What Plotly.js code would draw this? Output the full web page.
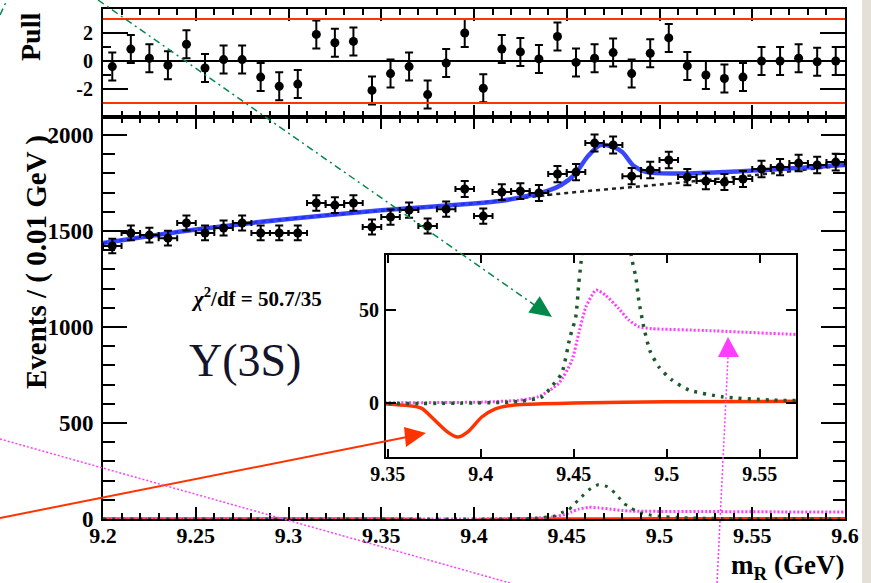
<!DOCTYPE html>
<html>
<head>
<meta charset="utf-8">
<script src="https://cdn.plot.ly/plotly-3.0.1.min.js"></script>
<style>html,body{margin:0;padding:0;background:#fff;}#chart{width:871px;height:583px;}</style>
</head>
<body>
<div id="chart"></div>
<script>
// ---- data ----
var binCenters = [9.205,9.215,9.225,9.235,9.245,9.255,9.265,9.275,9.285,9.295,
                  9.305,9.315,9.325,9.335,9.345,9.355,9.365,9.375,9.385,9.395,
                  9.405,9.415,9.425,9.435,9.445,9.455,9.465,9.475,9.485,9.495,
                  9.505,9.515,9.525,9.535,9.545,9.555,9.565,9.575,9.585,9.595];
var eventCounts = [1422,1490,1479,1463,1542,1490,1516,1542,1490,1490,
                   1490,1646,1635,1646,1521,1573,1609,1526,1614,1719,
                   1578,1703,1708,1698,1797,1807,1958,1948,1786,1818,
                   1870,1781,1760,1755,1771,1823,1833,1854,1844,1859];
var binHalfWidth = 0.005;
var pullValues = [-0.4,0.85,0.2,-0.3,1.2,-0.5,0.1,0.1,-1.15,-1.8,
                  -1.65,1.9,1.3,1.4,-2.1,-0.9,-0.4,-2.4,-0.15,2.0,
                  -1.95,0.85,0.65,0.15,1.75,-0.1,0.2,0.6,-0.9,0.55,
                  1.65,-0.35,-1.0,-1.25,-1.15,0.0,0.0,0.2,-0.05,0.0];
var pullErr = 1;

var totalX = [9.2,9.25,9.3,9.35,9.4,9.415,9.43,9.44,9.447,9.454,9.461,9.468,9.475,9.48,9.486,9.493,9.51,9.55,9.6];
var totalY = [1437,1508,1563,1608,1643,1658,1685,1710,1740,1791,1885,1948,1938,1911,1840,1807,1800,1815,1844];
var bkgX = [9.2,9.25,9.3,9.35,9.4,9.45,9.5,9.55,9.6];
var bkgY = [1437,1508,1563,1606,1645,1698,1742,1790,1842];

var redX = [9.2,9.35,9.368,9.375,9.382,9.3876,9.393,9.4005,9.4075,9.418,9.433,9.45,9.5,9.6];
var redY = [0,-0.5,-2.7,-9,-15.5,-18.3,-15.5,-7.5,-3.2,-1,-0.4,0,0.7,1];
var magX = [9.2,9.4,9.42,9.431,9.442,9.449,9.4527,9.4565,9.462,9.467,9.474,9.4796,9.485,9.492,9.521,9.567,9.6];
var magY = [0,0.5,1.5,3.4,10.7,23,37.6,51.6,60.8,58,51,44.6,41,40,39,37,36];
var grnX = [9.2,9.42,9.433,9.438,9.4435,9.448,9.451,9.4527,9.4538,9.458,9.462,9.467,9.472,9.477,9.481,9.4833,9.485,9.4876,9.491,9.4957,9.5027,9.512,9.5296,9.5565,9.6];
var grnY = [0,0.8,3.4,8.8,16,35.6,46,64.5,75,115,152,178,168,125,78.7,68,55,41,28,19.5,12.4,7,3.4,1.6,1];

var mainXTicks = [9.2,9.25,9.3,9.35,9.4,9.45,9.5,9.55,9.6];
var mainXLabels = ['9.2','9.25','9.3','9.35','9.4','9.45','9.5','9.55','9.6'];
var mainYTicks = [0,500,1000,1500,2000];
var mainYLabels = ['0','500','1000','1500','2000'];
var pullTicks = [-2,0,2];
var pullLabels = ['-2','0','2'];
var insetXTicks = [9.35,9.4,9.45,9.5,9.55];
var insetXLabels = ['9.35','9.4','9.45','9.5','9.55'];
var insetYTicks = [0,50];
var insetYLabels = ['0','50'];

// ---- styling ----
var W = 871, H = 583;
function px(x){return x/W;}
function py(y){return 1 - y/H;}
var SERIF = '"Liberation Serif", "Times New Roman", serif';
var GREEN_ARROW = '#00894a', RED = '#ff3300', MAG = '#ff3cff', BLUE = '#2233ff', DKGREEN = '#1d5a2a';

var traces = [
  {x: bkgX, y: bkgY, xaxis:'x', yaxis:'y', mode:'lines', line:{color:'#222', width:2.5, dash:'4px,4px', shape:'spline'}, hoverinfo:'skip'},
  {x: totalX, y: totalY, xaxis:'x', yaxis:'y', mode:'lines', line:{color:BLUE, width:4.5, shape:'spline', smoothing:0.8}, opacity:0.9, hoverinfo:'skip'},
  {x: redX, y: redY, xaxis:'x', yaxis:'y', mode:'lines', line:{color:RED, width:3.5, shape:'spline', smoothing:0.6}},
  {x: magX, y: magY, xaxis:'x', yaxis:'y', mode:'lines', line:{color:MAG, width:3, dash:'2px,2px', shape:'spline', smoothing:0.6}},
  {x: grnX, y: grnY, xaxis:'x', yaxis:'y', mode:'lines', line:{color:DKGREEN, width:3, dash:'3px,6px', shape:'spline', smoothing:0.6}},
  {x: binCenters, y: eventCounts, xaxis:'x', yaxis:'y', mode:'markers',
   marker:{color:'#000', size:9},
   error_x:{type:'constant', value:binHalfWidth, color:'#000', thickness:2, width:3},
   error_y:{type:'sqrt', color:'#000', thickness:2, width:4}},
  {x: binCenters, y: pullValues, xaxis:'x2', yaxis:'y2', mode:'markers',
   marker:{color:'#000', size:9},
   error_y:{type:'constant', value:pullErr, color:'#000', thickness:2, width:4}},
  {x: redX, y: redY, xaxis:'x3', yaxis:'y3', mode:'lines', line:{color:RED, width:3.5, shape:'spline', smoothing:0.6}},
  {x: magX, y: magY, xaxis:'x3', yaxis:'y3', mode:'lines', line:{color:MAG, width:3, dash:'2px,2px', shape:'spline', smoothing:0.6}},
  {x: grnX, y: grnY, xaxis:'x3', yaxis:'y3', mode:'lines', line:{color:DKGREEN, width:3.5, dash:'3px,6px', shape:'spline', smoothing:0.6}}
];

var tickFontX = {family:SERIF, size:22, color:'#000', weight:'bold'};
var tickFontY = {family:SERIF, size:23, color:'#000', weight:'bold'};
var tickFontPull = {family:SERIF, size:20, color:'#000', weight:'bold'};
var tickFontInset = {family:SERIF, size:20, color:'#000', weight:'bold'};
var xDom = [px(103), px(845)];

var axBase = {showline:true, linecolor:'#000', linewidth:2, mirror:'ticks', ticks:'inside',
              tickcolor:'#000', tickwidth:2, showgrid:false, zeroline:false, fixedrange:true};

function ext(a,b){var o={};for(var k in a)o[k]=a[k];for(var k2 in b)o[k2]=b[k2];return o;}

var layout = {
  width: W, height: H, margin:{l:0,r:0,t:0,b:0}, showlegend:false,
  paper_bgcolor:'#fff', plot_bgcolor:'rgba(0,0,0,0)',
  xaxis: ext(axBase, {anchor:'y', domain:xDom, range:[9.2,9.6], tickvals:mainXTicks, ticktext:mainXLabels,
           ticklen:12, tickfont:tickFontX, ticklabelstandoff:-4,
           minor:{ticks:'inside', ticklen:6, dtick:0.01, tick0:9.2, tickcolor:'#000', tickwidth:2, showgrid:false}}),
  yaxis: ext(axBase, {anchor:'x', domain:[py(519), py(117)], range:[0,2094], tickvals:mainYTicks, ticktext:mainYLabels,
           ticklen:24, tickfont:tickFontY, ticklabelstandoff:3,
           minor:{ticks:'inside', ticklen:12, dtick:100, tick0:0, tickcolor:'#000', tickwidth:2, showgrid:false}}),
  xaxis2: ext(axBase, {anchor:'y2', domain:xDom, range:[9.2,9.6], matches:'x', showticklabels:false,
           tickvals:mainXTicks, ticklen:12,
           minor:{ticks:'inside', ticklen:6, dtick:0.01, tick0:9.2, tickcolor:'#000', tickwidth:2, showgrid:false}}),
  yaxis2: ext(axBase, {anchor:'x2', domain:[py(117), py(8.5)], range:[-4,3.75], tickvals:pullTicks, ticktext:pullLabels,
           ticklen:25, tickfont:tickFontPull, ticklabelstandoff:4,
           minor:{ticks:'inside', ticklen:8, dtick:1, tick0:0, tickcolor:'#000', tickwidth:2, showgrid:false}}),
  xaxis3: ext(axBase, {anchor:'y3', domain:[px(386), px(796)], range:[9.349,9.5695], tickvals:insetXTicks, ticktext:insetXLabels,
           ticklen:8, tickfont:tickFontInset, ticklabelstandoff:-2}),
  yaxis3: ext(axBase, {anchor:'x3', domain:[py(457), py(255)], range:[-29,79.6], tickvals:insetYTicks, ticktext:insetYLabels,
           ticklen:10, tickfont:tickFontInset, ticklabelstandoff:1}),
  shapes: [
    {type:'rect', xref:'paper', yref:'paper', x0:px(862), x1:1, y0:0, y1:1, fillcolor:'#e4e0d7', line:{width:0}, layer:'below'},
    {type:'line', xref:'x2 domain', yref:'y2', x0:0, x1:1, y0:0, y1:0, line:{color:'#000', width:2}},
    {type:'line', xref:'x2 domain', yref:'y2', x0:0, x1:1, y0:3, y1:3, line:{color:RED, width:2}},
    {type:'line', xref:'x2 domain', yref:'y2', x0:0, x1:1, y0:-3, y1:-3, line:{color:RED, width:2}},
    // green dash-dot arrow
    {type:'line', xref:'paper', yref:'paper', x0:px(98), y0:py(0), x1:px(536), y1:py(306), line:{color:GREEN_ARROW, width:1.5, dash:'7px,4px,2px,4px'}},
    {type:'line', xref:'paper', yref:'paper', x0:px(0), y0:py(15), x1:px(7), y1:py(0), line:{color:GREEN_ARROW, width:1.5, dash:'7px,4px,2px,4px'}},
    {type:'path', xref:'paper', yref:'paper', path:'M '+px(552)+','+py(317)+' L '+px(528.3)+','+py(312.6)+' L '+px(539.7)+','+py(296.2)+' Z', fillcolor:GREEN_ARROW, line:{width:0}},
    // red solid arrow
    {type:'line', xref:'paper', yref:'paper', x0:px(0), y0:py(518), x1:px(407), y1:py(437), line:{color:RED, width:2}},
    {type:'path', xref:'paper', yref:'paper', path:'M '+px(426)+','+py(433)+' L '+px(404)+','+py(427)+' L '+px(406)+','+py(447)+' Z', fillcolor:RED, line:{width:0}},
    // magenta dotted lines
    {type:'line', xref:'paper', yref:'paper', x0:px(0), y0:py(439), x1:px(510), y1:py(583), line:{color:MAG, width:1.5, dash:'2px,2px'}},
    {type:'line', xref:'paper', yref:'paper', x0:px(717), y0:py(583), x1:px(728), y1:py(357), line:{color:MAG, width:1.5, dash:'2px,2px'}},
    {type:'path', xref:'paper', yref:'paper', path:'M '+px(728)+','+py(337)+' L '+px(718)+','+py(357)+' L '+px(739)+','+py(357)+' Z', fillcolor:MAG, line:{width:0}}
  ],
  annotations: [
    {xref:'paper', yref:'paper', x:px(30), y:py(37), text:'Pull', textangle:-90, showarrow:false,
     font:{family:SERIF, size:28, color:'#000', weight:'bold'}, xanchor:'center', yanchor:'middle'},
    {xref:'paper', yref:'paper', x:px(36), y:py(262), text:'Events / ( 0.01 GeV )', textangle:-90, showarrow:false,
     font:{family:SERIF, size:29, color:'#000', weight:'bold'}, xanchor:'center', yanchor:'middle'},
    {xref:'paper', yref:'paper', x:px(846), y:py(567), text:'m<sub>R</sub> (GeV)', showarrow:false,
     font:{family:SERIF, size:27, color:'#000', weight:'bold'}, xanchor:'right', yanchor:'middle'},
    {xref:'paper', yref:'paper', x:px(256), y:py(297), text:'<i>χ</i><sup>2</sup>/df = 50.7/35', showarrow:false,
     font:{family:SERIF, size:21, color:'#000', weight:'bold'}, xanchor:'center', yanchor:'middle'},
    {xref:'paper', yref:'paper', x:px(245), y:py(360), text:'Υ(3S)', showarrow:false,
     font:{family:SERIF, size:46, color:'#14142a'}, xanchor:'center', yanchor:'middle'}
  ]
};

Plotly.newPlot('chart', traces, layout, {staticPlot:true, displayModeBar:false});
</script>
</body>
</html>
